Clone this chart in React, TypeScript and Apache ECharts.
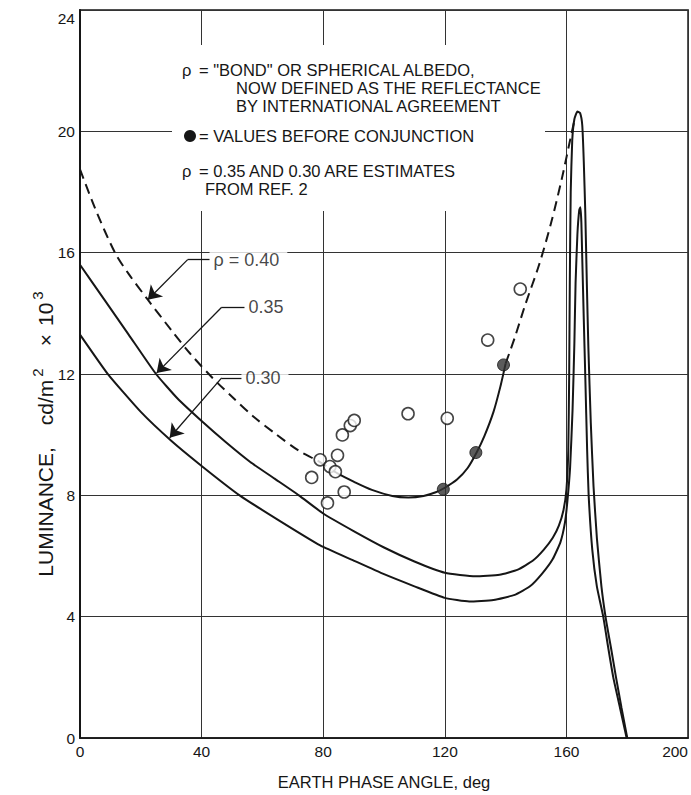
import React, { useEffect, useRef } from "react";
import * as echarts from "echarts";

type P = [number, number];

// Axis ranges / ticks
const xMin = 0, xMax = 200, xStep = 40;
const yMin = 0, yMax = 24, yStep = 4;

// rho = 0.35 (solid)
const rho035: P[] = [
  [0, 15.6], [8, 14.45], [16, 13.3], [25, 12.0], [32, 11.2], [40, 10.45], [48, 9.75], [56, 9.1],
  [64, 8.55], [72, 8.0], [80, 7.4], [90, 6.82], [100, 6.28], [110, 5.82], [120, 5.45], [130, 5.33],
  [138, 5.38], [144, 5.55], [149, 5.85], [152.5, 6.2], [155.5, 6.6], [157.5, 7.0], [159, 7.5],
  [160, 8.2], [160.6, 9.5], [160.9, 12], [161.1, 15], [161.4, 18], [161.9, 19.7], [162.6, 20.4],
  [163.6, 20.65], [164.5, 20.6], [165.2, 20.2], [165.7, 19.0], [166.2, 17.3], [166.7, 15.0],
  [167.2, 12.9], [168, 10.4], [168.9, 8.3], [170, 6.6], [171.5, 5.0], [173, 3.9], [174.6, 3.0],
  [176.3, 2.0], [178.1, 1.0], [180, 0],
];

// rho = 0.30 (solid)
const rho030: P[] = [
  [0, 13.3], [9.3, 11.98], [20, 10.75], [30, 9.8], [40, 8.97], [52.5, 8.0], [65, 7.2], [79, 6.35],
  [90, 5.85], [100, 5.4], [110, 5.0], [120, 4.62], [128, 4.5], [136, 4.55], [143, 4.72], [148, 5.0],
  [152, 5.42], [155.5, 5.9], [158, 6.45], [159.5, 7.1], [160.3, 7.8], [161.2, 8.92], [162, 10.8],
  [162.6, 13], [163, 15.0], [163.6, 16.6], [164.2, 17.4], [164.6, 17.5], [164.9, 17.0], [165.2, 15.8],
  [165.7, 13.8], [166.2, 11.9], [166.8, 9.5], [167.3, 8.0], [168.5, 6.2], [170, 5.0], [172.1, 4.0],
  [173.7, 3.0], [175.4, 2.0], [177.6, 1.0], [179.8, 0],
];

// rho = 0.40, dashed part before the measured values
const rho040Early: P[] = [
  [0, 18.75], [5, 17.45], [11.5, 16.0], [16, 15.3], [22.3, 14.45], [30, 13.45], [36, 12.7],
  [43.6, 11.87], [50, 11.25], [57, 10.6], [64, 10.05], [72, 9.47], [78, 9.15], [82, 8.9],
];

// rho = 0.40, solid part through the measured values
const rho040Measured: P[] = [
  [82, 8.9], [84.7, 8.72], [90, 8.45], [96, 8.18], [102.7, 7.98], [108, 7.93], [113, 7.98],
  [117, 8.1], [120, 8.25], [124, 8.52], [127.5, 8.9], [130.5, 9.42], [133, 9.95], [136, 10.75],
  [138.3, 11.6], [140, 12.35],
];

// rho = 0.40, dashed part up to the peak
const rho040Late: P[] = [
  [140, 12.35], [143, 13.2], [146.4, 14.27], [151, 15.6], [155, 17.0], [158.5, 18.45], [161.6, 19.9],
  [162.6, 20.35],
];

// open circles
const openPoints: P[] = [
  [76.2, 8.59], [79.0, 9.17], [81.4, 7.75], [82.2, 8.95], [84.0, 8.78], [84.7, 9.32], [86.3, 9.99],
  [86.9, 8.11], [88.9, 10.3], [90.2, 10.47], [107.9, 10.69], [120.8, 10.54], [134.1, 13.12],
  [144.8, 14.8],
];

// filled circles: values before conjunction
const filledPoints: P[] = [[119.5, 8.2], [130.2, 9.41], [139.3, 12.3]];

// curve labels with leader lines (tip on curve, bend, end)
const curveLabels = ["ρ = 0.40", "0.35", "0.30"];
const leaderTips: P[] = [[22.3, 14.45], [25.2, 12.03], [29.5, 9.9]];
const leaderBends: P[] = [[35.4, 15.77], [46.6, 14.2], [46.6, 11.87]];
const leaderEnds: P[] = [[42.6, 15.77], [54.1, 14.2], [53.1, 11.87]];

const legendNote1 = ['= "BOND" OR SPHERICAL ALBEDO,', "NOW DEFINED AS THE REFLECTANCE", "BY INTERNATIONAL AGREEMENT"];
const legendNote2 = "= VALUES BEFORE CONJUNCTION";
const legendNote3 = ["= 0.35 AND 0.30 ARE ESTIMATES", "FROM REF. 2"];

const FONT = "'Liberation Sans', Arial, sans-serif";
const INK = "#161616";

export default function App() {
  const ref = useRef<HTMLDivElement>(null);

  useEffect(() => {
    document.body.style.margin = "0";
    const chart = echarts.init(ref.current!, undefined, { renderer: "svg" });

    const txt = (x: number, y: number, text: string, size = 16.5) => ({
      type: "text",
      x,
      y,
      z: 11,
      style: { text, fill: INK, font: `${size}px ${FONT}`, verticalAlign: "middle" },
    });

    const option: any = {
      animation: false,
      backgroundColor: "#fff",
      grid: {
        left: 80,
        right: 1,
        top: 10,
        bottom: 53,
        show: true,
        borderColor: INK,
        borderWidth: 1.6,
        backgroundColor: "transparent",
      },
      xAxis: {
        type: "value",
        min: xMin,
        max: xMax,
        interval: xStep,
        name: "EARTH PHASE ANGLE, deg",
        nameLocation: "middle",
        nameGap: 35,
        nameTextStyle: { fontFamily: FONT, fontSize: 16.5, color: INK },
        axisLine: { show: true, lineStyle: { color: INK, width: 1.6 } },
        axisTick: { show: false },
        splitLine: { show: true, lineStyle: { color: "#333", width: 1 } },
        axisLabel: {
          fontFamily: FONT,
          fontSize: 15.5,
          color: INK,
          margin: 5,
          formatter: (v: number) => (v === xMax ? `{r|${v}}` : String(v)),
          rich: { r: { fontFamily: FONT, fontSize: 15.5, color: INK, padding: [0, 26, 0, 0] } },
        },
      },
      yAxis: {
        type: "value",
        min: yMin,
        max: yMax,
        interval: yStep,
        axisLine: { show: true, lineStyle: { color: INK, width: 2 } },
        axisTick: { show: false },
        splitLine: { show: true, lineStyle: { color: "#333", width: 1 } },
        axisLabel: {
          fontFamily: FONT,
          fontSize: 15.5,
          color: INK,
          margin: 5,
          formatter: (v: number) => (v === yMax ? `{t|${v}}` : String(v)),
          rich: { t: { fontFamily: FONT, fontSize: 15.5, color: INK, padding: [16, 0, 0, 0] } },
        },
      },
      graphic: [
        // white box behind the note (masks grid lines)
        { type: "rect", z: 10, shape: { x: 172, y: 45, width: 373, height: 166 }, style: { fill: "#fff" } },
        txt(182, 70, "ρ"),
        txt(199, 70, legendNote1[0]),
        txt(236, 88, legendNote1[1]),
        txt(236, 106, legendNote1[2]),
        { type: "circle", z: 11, shape: { cx: 190, cy: 136, r: 6 }, style: { fill: INK } },
        txt(199, 136, legendNote2),
        txt(182, 171, "ρ"),
        txt(199, 171, legendNote3[0]),
        txt(205, 189, legendNote3[1]),
        // y axis title
        {
          type: "text",
          x: 45,
          y: 434,
          rotation: Math.PI / 2,
          z: 11,
          style: {
            text: "{a|LUMINANCE,}{b|cd/m}{s|2}{c|×}{d|10}{s|3}",
            align: "center",
            verticalAlign: "middle",
            rich: {
              a: { fontFamily: FONT, fontSize: 21, fill: INK, color: INK, lineHeight: 30 },
              b: { fontFamily: FONT, fontSize: 21, fill: INK, color: INK, padding: [0, 0, 0, 22] },
              c: { fontFamily: FONT, fontSize: 21, fill: INK, color: INK, padding: [0, 8, 0, 22] },
              d: { fontFamily: FONT, fontSize: 21, fill: INK, color: INK },
              s: { fontFamily: FONT, fontSize: 15, fill: INK, color: INK, verticalAlign: "top", padding: [0, 0, 0, 3] },
            },
          },
        },
      ],
      series: [
        {
          type: "line",
          name: "0.35",
          data: rho035,
          showSymbol: false,
          smooth: 0.15,
          z: 3,
          lineStyle: { color: INK, width: 2 },
        },
        {
          type: "line",
          name: "0.30",
          data: rho030,
          showSymbol: false,
          smooth: 0.15,
          z: 3,
          lineStyle: { color: INK, width: 2 },
        },
        {
          type: "line",
          name: "0.40 early",
          data: rho040Early,
          showSymbol: false,
          smooth: 0.3,
          z: 3,
          lineStyle: { color: INK, width: 2, type: [10, 6] },
        },
        {
          type: "line",
          name: "0.40 measured",
          data: rho040Measured,
          showSymbol: false,
          smooth: 0.3,
          z: 3,
          lineStyle: { color: INK, width: 2 },
        },
        {
          type: "line",
          name: "0.40 late",
          data: rho040Late,
          showSymbol: false,
          smooth: 0.3,
          z: 3,
          lineStyle: { color: INK, width: 2, type: [10, 6] },
        },
        {
          type: "scatter",
          name: "open",
          data: openPoints,
          symbol: "circle",
          symbolSize: 12,
          z: 5,
          itemStyle: { color: "#fff", borderColor: INK, borderWidth: 1.6 },
        },
        {
          type: "scatter",
          name: "before conjunction",
          data: filledPoints,
          symbol: "circle",
          symbolSize: 12,
          z: 5,
          itemStyle: { color: "#333", borderColor: INK, borderWidth: 1 },
        },
        {
          type: "lines",
          coordinateSystem: "cartesian2d",
          z: 6,
          symbol: ["arrow", "none"],
          symbolSize: [13, 0],
          itemStyle: { color: INK },
          lineStyle: { color: INK, width: 1.3, opacity: 1, curveness: 0 },
          data: leaderTips.map((t, i) => ({ coords: [t, leaderBends[i]] })),
        },
        {
          type: "lines",
          coordinateSystem: "cartesian2d",
          z: 6,
          symbol: "none",
          lineStyle: { color: INK, width: 1.3, opacity: 1, curveness: 0 },
          data: leaderBends.map((b, i) => ({ coords: [b, leaderEnds[i]] })),
        },
        {
          type: "scatter",
          name: "labels",
          symbolSize: 0,
          z: 5,
          data: leaderEnds.map((e, i) => ({ value: e, name: curveLabels[i] })),
          label: {
            show: true,
            position: "right",
            distance: 0,
            formatter: "{b}",
            fontFamily: FONT,
            fontSize: 18,
            color: INK,
            backgroundColor: "#fff",
            padding: [4, 8, 4, 4],
          },
        },
      ],
    };

    chart.setOption(option);
    return () => chart.dispose();
  }, []);

  return <div ref={ref} style={{ position: "absolute", left: 0, top: 0, width: 691, height: 795 }} />;
}
